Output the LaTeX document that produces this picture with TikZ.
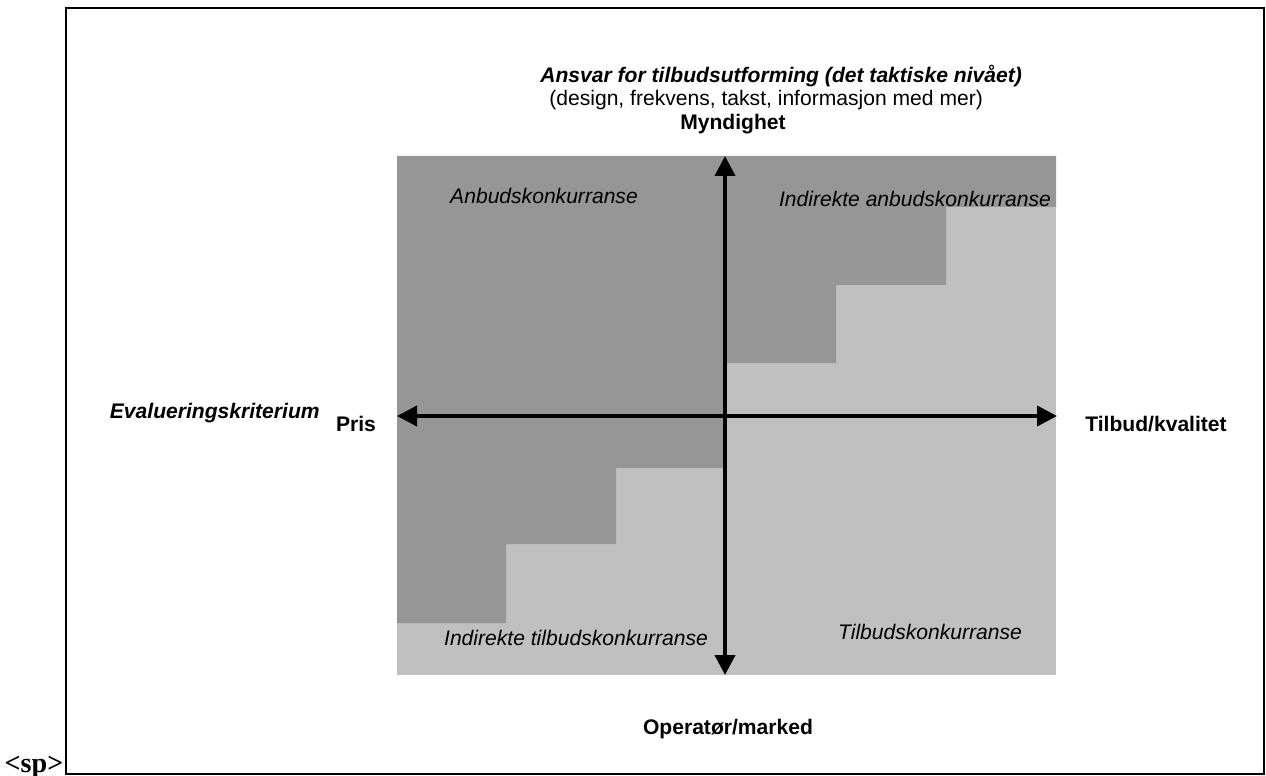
\documentclass[tikz,border=0pt]{standalone}
\usepackage{fontspec}
\setmainfont{Liberation Sans}
\newfontfamily\spfont{Liberation Serif}
\usetikzlibrary{arrows.meta}
\definecolor{darkfield}{gray}{0.588}
\definecolor{lightfield}{gray}{0.753}

\begin{document}
\begin{tikzpicture}[x=0.02cm,y=-0.02cm,
  lbl/.style={font=\fontsize{12}{14}\selectfont\bfseries,inner sep=0pt},
  lblit/.style={font=\fontsize{12}{14}\selectfont\bfseries\itshape,inner sep=0pt},
  txt/.style={font=\fontsize{12}{14}\selectfont,inner sep=0pt},
  field/.style={font=\fontsize{12}{14}\selectfont\itshape,inner sep=0pt},
  axis/.style={{Triangle[length=0.4cm,width=0.4cm]}-{Triangle[length=0.4cm,width=0.4cm]},line width=2.2pt}
]
\useasboundingbox (0,0) rectangle (1266,776);
\draw[line width=1.1pt] (66,8) rectangle (1264,774);
\fill[lightfield] (397,156) rectangle (1056,675);
\fill[darkfield] (397,156) -| (1056,207) -| (946,285) -| (836,363) -| (725,468)
  -| (616,544) -| (506,623) -- (397,623) -- cycle;
\coordinate (top) at (725,156);
\coordinate (bottom) at (725,675);
\coordinate (left) at (397,416);
\coordinate (right) at (1057,416);
\draw[axis] (left) -- (right);
\draw[axis] (bottom) -- (top);
\node[lblit,anchor=west] (title) at (540,76) {Ansvar for tilbudsutforming (det taktiske nivået)};
\node[txt,anchor=west] (detail) at (549,100) {(design, frekvens, takst, informasjon med mer)};
\node[lbl] (myndighet) at (733,124) {Myndighet};
\node[field] (anbud) at (544,196) {Anbudskonkurranse};
\node[field] (indanbud) at (915,199) {Indirekte anbudskonkurranse};
\node[lblit,anchor=east] (kriterium) at (320,413) {Evalueringskriterium};
\node[lbl] (pris) at (356,424) {Pris};
\node[lbl] (kvalitet) at (1156,424) {Tilbud/kvalitet};
\node[field] (indtilbud) at (576,638) {Indirekte tilbudskonkurranse};
\node[field] (tilbudk) at (930,632) {Tilbudskonkurranse};
\node[lbl] (operator) at (728,729) {Operatør/marked};
\node[font=\spfont\bfseries\fontsize{16}{18}\selectfont,inner sep=0pt] (sp) at (34,767) {<sp>};
\end{tikzpicture}
\end{document}
